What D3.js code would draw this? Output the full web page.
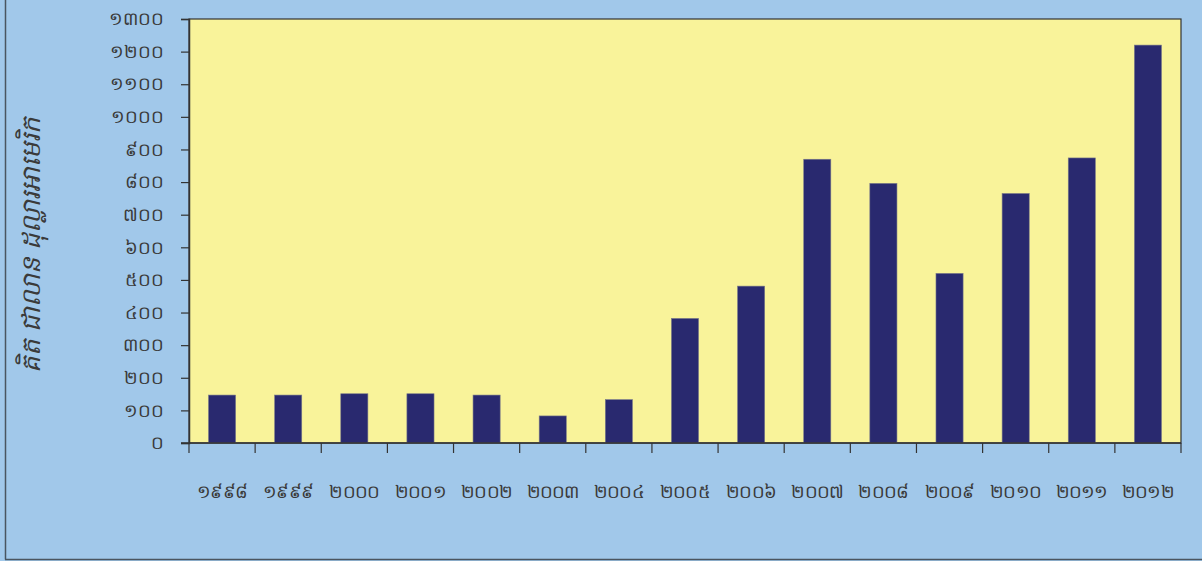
<!DOCTYPE html>
<html>
<head>
<meta charset="utf-8">
<script src="https://cdn.jsdelivr.net/npm/d3@7"></script>
<style>
  body { margin: 0; background: #a1c8ea; }
  svg text { font-family: "Noto Sans", "DejaVu Sans", sans-serif; fill: #3a3a3a; }
</style>
</head>
<body>
<svg id="chart" width="1202" height="561"></svg>
<script>
// years along the bottom, in order
var years = [1998, 1999, 2000, 2001, 2002, 2003, 2004, 2005, 2006, 2007, 2008, 2009, 2010, 2011, 2012];
// values in million US dollars
var values = [147, 147, 151, 151, 147, 83, 133, 382, 481, 870, 796, 520, 765, 874, 1220];
// y tick values (every 100)
var yTicks = [0, 100, 200, 300, 400, 500, 600, 700, 800, 900, 1000, 1100, 1200, 1300];
var yTitle = "គិត ជាលាន ដុល្លារអាមេរិក";

var khmerDigits = "០១២៣៤៥៦៧៨៩";
function toKhmer(n) {
  return String(n).replace(/\d/g, function(d) { return khmerDigits[+d]; });
}

var svg = d3.select('#chart');
var W = 1202, H = 561;
// note: "top" is taken by window.top, so plot edges get a prefix
var plotL = 189, plotR = 1181, plotT = 19, plotB = 443;

// outer frame - only left and bottom edges show in the picture
svg.append('rect').attr('x', 0).attr('y', 0).attr('width', W).attr('height', H).attr('fill', '#a1c8ea');
svg.append('line').attr('x1', 5.5).attr('x2', 5.5).attr('y1', 0).attr('y2', 559.5)
  .attr('stroke', '#4a5560').attr('stroke-width', 1.5);
svg.append('line').attr('x1', 5).attr('x2', W).attr('y1', 559.5).attr('y2', 559.5)
  .attr('stroke', '#4a5560').attr('stroke-width', 1.5);

var x = d3.scaleBand().domain(years).range([plotL, plotR]).paddingInner(0.59).paddingOuter(0.295);
var xEdges = d3.scaleBand().domain(years).range([plotL, plotR]);
var y = d3.scaleLinear().domain([0, 1300]).range([plotB, plotT]);

// plot area
svg.append('rect')
  .attr('x', plotL).attr('y', plotT)
  .attr('width', plotR - plotL).attr('height', plotB - plotT)
  .attr('fill', '#f9f39a')
  .attr('stroke', '#333').attr('stroke-width', 1.2);

// bars
svg.selectAll('rect.bar')
  .data(values)
  .enter()
  .append('rect')
  .attr('class', 'bar')
  .attr('x', function(d, i) { return x(years[i]); })
  .attr('width', x.bandwidth())
  .attr('y', function(d) { return y(d); })
  .attr('height', function(d) { return plotB - y(d); })
  .attr('fill', '#29296f')
  .attr('stroke', '#7a7a8a').attr('stroke-width', 0.6);

// y axis
var yAxis = d3.axisLeft(y).tickValues(yTicks).tickSize(8).tickPadding(17).tickFormat(toKhmer);
var gy = svg.append('g').attr('transform', 'translate(' + plotL + ',0)').call(yAxis);
gy.select('.domain').attr('stroke', '#333').attr('stroke-width', 1.5);
gy.selectAll('.tick line').attr('stroke', '#333').attr('stroke-width', 1.2);
gy.selectAll('text').attr('font-size', 18).attr('fill', '#3a3a3a');

// x axis - ticks sit on the band edges, labels in the middle of each band
var gx = svg.append('g').attr('transform', 'translate(0,' + plotB + ')');
gx.append('line').attr('x1', plotL - 8).attr('x2', plotR).attr('stroke', '#333').attr('stroke-width', 1.5);
var edges = years.map(function(yr) { return xEdges(yr); }).concat([plotR]);
gx.selectAll('line.edge')
  .data(edges)
  .enter()
  .append('line')
  .attr('class', 'edge')
  .attr('x1', function(d) { return d; }).attr('x2', function(d) { return d; })
  .attr('y1', 0).attr('y2', 10)
  .attr('stroke', '#333').attr('stroke-width', 1.2);
gx.selectAll('text.lab')
  .data(years)
  .enter()
  .append('text')
  .attr('class', 'lab')
  .attr('x', function(d) { return xEdges(d) + xEdges.bandwidth() / 2; })
  .attr('y', 55)
  .attr('text-anchor', 'middle')
  .attr('font-size', 18)
  .attr('letter-spacing', -0.8)
  .text(function(d) { return toKhmer(d); });

// y title, rotated
svg.append('text')
  .attr('transform', 'translate(40,245) rotate(-90)')
  .attr('text-anchor', 'middle')
  .attr('font-size', 26)
  .attr('font-style', 'italic')
  .text(yTitle);
</script>
</body>
</html>
